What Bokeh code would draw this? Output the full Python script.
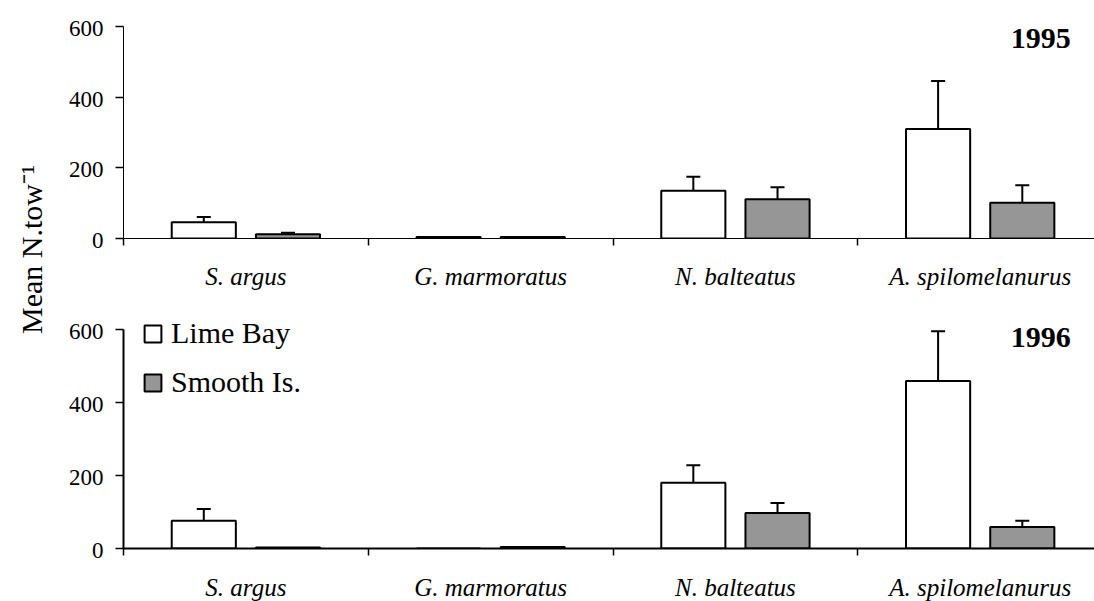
import numpy as np
from bokeh.plotting import figure
from bokeh.models import (ColumnDataSource, FixedTicker, Whisker, TeeHead, Label, LabelSet,
                          Legend, LegendItem, Range1d)
from bokeh.layouts import row, column
from bokeh.embed import file_html
from bokeh.resources import INLINE
from math import pi

# ---------------- data ----------------
categories = ["S. argus", "G. marmoratus", "N. balteatus", "A. spilomelanurus"]
series = ["Lime Bay", "Smooth Is."]
years = ["1995", "1996"]
y_ticks = [0, 200, 400, 600]

lime_1995 = [46, 4, 135, 310]
lime_1995_se = [15, 0, 40, 136]
smooth_1995 = [12, 4, 111, 101]
smooth_1995_se = [4, 0, 34, 50]

lime_1996 = [76, 0, 180, 459]
lime_1996_se = [32, 0, 48, 136]
smooth_1996 = [3, 4, 97, 59]
smooth_1996_se = [0, 0, 28, 17]

FONT = "Liberation Serif"
GREY = "#969696"

# ---------------- layout constants (pixels) ----------------
LAB_W, TICK_W, MAIN_W = 60, 50, 984
LEFT_B = 13
X_END = 3.967


def blank(w, h, xr, yr, left=0):
    f = figure(width=w, height=h, output_backend="svg", toolbar_location=None,
               x_range=xr, y_range=yr, x_axis_location=None, y_axis_location=None,
               min_border=0, min_border_left=left)
    f.outline_line_color = None
    f.grid.visible = False
    return f


def panel(year, lime, lime_se, smooth, smooth_se, height, btop, frame_h, ymax,
          lw, legend, year_y, xr):
    p = figure(width=MAIN_W, height=height, output_backend="svg", toolbar_location=None,
               x_range=xr, y_range=Range1d(0, ymax),
               min_border_left=LEFT_B, min_border_right=0,
               min_border_top=btop, min_border_bottom=height - btop - frame_h)
    p.outline_line_color = None
    p.grid.visible = False

    centers = np.arange(len(categories)) + 0.5
    off = 0.172
    width = 0.262
    out = []
    for k, (vals, se, fill) in enumerate([(lime, lime_se, "white"), (smooth, smooth_se, GREY)]):
        xs = centers + (-off if k == 0 else off)
        src = ColumnDataSource(dict(x=xs, top=vals))
        r = p.vbar(x="x", top="top", width=width, bottom=0, source=src,
                   fill_color=fill, line_color="black", line_width=2)
        out.append(r)
        keep = [i for i in range(len(vals)) if se[i] > 0]
        esrc = ColumnDataSource(dict(
            base=[xs[i] for i in keep],
            lower=[vals[i] for i in keep],
            upper=[vals[i] + se[i] for i in keep]))
        p.add_layout(Whisker(base="base", lower="lower", upper="upper", source=esrc,
                             dimension="height", line_width=2, line_color="black",
                             lower_head=None,
                             upper_head=TeeHead(size=14, line_width=2, line_color="black")))

    xa = p.xaxis[0]
    xa.ticker = FixedTicker(ticks=list(centers), minor_ticks=list(range(len(categories) + 1)))
    xa.major_label_overrides = {float(c): "" for c in centers}
    xa.major_label_text_font_size = "0px"
    xa.major_label_standoff = 0
    xa.major_tick_out = 0
    xa.major_tick_in = 0
    xa.minor_tick_out = 7
    xa.minor_tick_in = 0
    xa.minor_tick_line_color = "black"
    xa.minor_tick_line_width = 1.5
    xa.axis_line_width = lw
    xa.axis_line_color = "black"

    ya = p.yaxis[0]
    ya.ticker = FixedTicker(ticks=y_ticks, minor_ticks=[])
    ya.major_label_overrides = {t: "" for t in y_ticks}
    ya.major_label_text_font_size = "0px"
    ya.major_label_standoff = 0
    ya.bounds = (0, 600)
    ya.major_tick_out = 8
    ya.major_tick_in = 0
    ya.major_tick_line_width = 1.5
    ya.axis_line_width = lw
    ya.axis_line_color = "black"

    p.add_layout(Label(x=3.87, y=year_y, text=year, text_align="right",
                       text_baseline="alphabetic", text_font=FONT, text_font_style="bold",
                       text_font_size="30px", text_color="black"))

    if legend:
        lg = Legend(items=[LegendItem(label=series[0], renderers=[out[0]]),
                           LegendItem(label=series[1], renderers=[out[1]])],
                    location=(19, 149), glyph_width=21, glyph_height=21,
                    label_text_font=FONT, label_text_font_size="30px",
                    label_text_color="black", spacing=15, padding=0, margin=0,
                    label_standoff=8, border_line_color=None,
                    background_fill_alpha=0)
        p.add_layout(lg)
    return p


def tick_strip(height, frame_bottom_local, scale):
    yr = Range1d((frame_bottom_local - height) / scale, frame_bottom_local / scale)
    f = blank(TICK_W, height, Range1d(0, TICK_W), yr)
    src = ColumnDataSource(dict(x=[TICK_W - 7] * len(y_ticks), y=y_ticks,
                                text=[str(t) for t in y_ticks]))
    f.add_layout(LabelSet(x="x", y="y", text="text", source=src, text_align="right",
                          text_baseline="middle", text_font=FONT, text_font_size="23px",
                          text_color="black", y_offset=-2))
    return f


def cat_strip(height, label_y, xr):
    f = blank(MAIN_W, height, xr, Range1d(height, 0), left=LEFT_B)
    centers = np.arange(len(categories)) + 0.5
    src = ColumnDataSource(dict(x=centers, y=[label_y] * len(categories), text=categories))
    f.add_layout(LabelSet(x="x", y="y", text="text", source=src, text_align="center",
                          text_baseline="middle", text_font=FONT, text_font_style="italic",
                          text_font_size="25px", text_color="black"))
    return f


xr = Range1d(0, X_END)

# top block: 300 px high
T_H, T_BT, T_FH = 260, 26, 212
t_scale = T_FH / 600
top = panel(years[0], lime_1995, lime_1995_se, smooth_1995, smooth_1995_se,
            T_H, T_BT, T_FH, 600, 1, False, 567, xr)
top_cats = cat_strip(300 - T_H, 16, xr)
top_ticks = tick_strip(300, T_BT + T_FH, t_scale)

# bottom block: 301 px high
B_H, B_BT, B_FH = 270, 10, 238
b_scale = 219 / 600
b_ymax = B_FH / b_scale
bottom = panel(years[1], lime_1996, lime_1996_se, smooth_1996, smooth_1996_se,
               B_H, B_BT, B_FH, b_ymax, 2, True, 579, xr)
bottom_cats = cat_strip(301 - B_H, 16.5, xr)
bottom_ticks = tick_strip(301, B_BT + B_FH, b_scale)

lab = blank(LAB_W, 601, Range1d(0, LAB_W), Range1d(601, 0))
lab.add_layout(Label(x=31, y=249, text="Mean N.tow\u207b\u00b9", angle=pi / 2,
                     text_align="center", text_baseline="middle", text_font=FONT,
                     text_font_size="30px", text_color="black"))

right = column(
    row(top_ticks, column(top, top_cats, spacing=0), spacing=0),
    row(bottom_ticks, column(bottom, bottom_cats, spacing=0), spacing=0),
    spacing=0)
layout = row(lab, right, spacing=0)

open("out.html", "w").write(file_html(layout, INLINE))
